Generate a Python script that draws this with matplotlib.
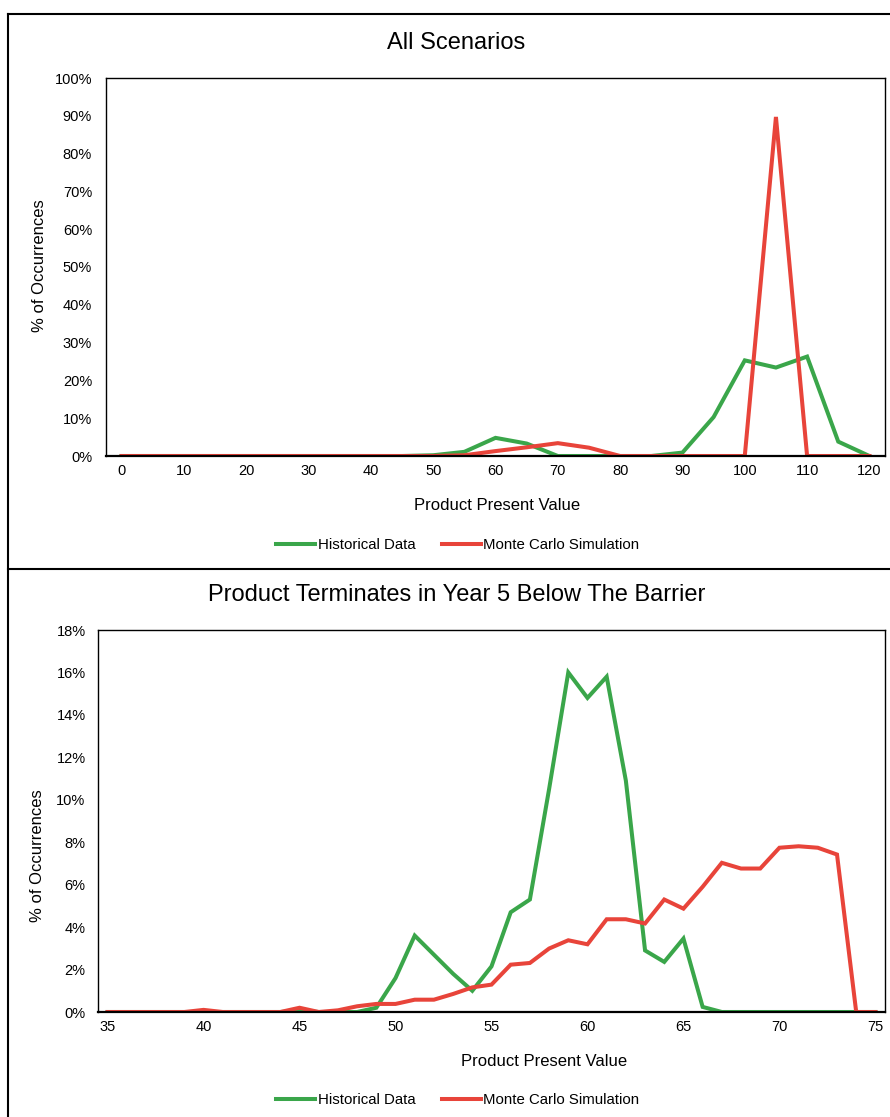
import matplotlib
matplotlib.use('agg')
import matplotlib.pyplot as plt
from matplotlib.lines import Line2D
from matplotlib.ticker import FuncFormatter

plt.rcParams['font.family'] = ['Liberation Sans', 'DejaVu Sans']

# --- data: all scenarios (values in %) ---
pv_all = [0, 5, 10, 15, 20, 25, 30, 35, 40, 45, 50, 55, 60, 65, 70, 75, 80, 85, 90, 95, 100, 105, 110, 115, 120]
hist_all = [0, 0, 0, 0, 0, 0, 0, 0, 0, 0, 0.2, 1.1, 4.8, 3.3, 0, 0, 0, 0, 0.9, 10.3, 25.3, 23.4, 26.3, 3.8, 0]
mc_all = [0, 0, 0, 0, 0, 0, 0, 0, 0, 0, 0, 0.2, 1.3, 2.3, 3.4, 2.2, 0, 0, 0, 0, 0, 89.7, 0, 0, 0]

# --- data: terminates in year 5 below barrier (values in %) ---
pv_y5 = list(range(35, 76))
hist_y5 = [0, 0, 0, 0, 0, 0, 0, 0, 0, 0, 0.05, 0, 0, 0, 0.2, 1.6, 3.6, 2.7, 1.8, 1.0,
           2.15, 4.7, 5.3, 10.5, 16.0, 14.8, 15.8, 10.9, 2.9, 2.36, 3.46, 0.24,
           0, 0, 0, 0, 0, 0, 0, 0, 0]
mc_y5 = [0, 0, 0, 0, 0, 0.1, 0, 0, 0, 0, 0.2, 0, 0.08, 0.27, 0.38, 0.38, 0.58, 0.58, 0.85, 1.16,
         1.29, 2.23, 2.31, 2.99, 3.38, 3.19, 4.37, 4.37, 4.17, 5.3, 4.87, 5.9,
         7.03, 6.76, 6.76, 7.74, 7.81, 7.74, 7.42, 0, 0]

green = '#3AA64A'
red = '#E8443A'
W, H = 890, 1117

fig = plt.figure(figsize=(W / 100, H / 100), dpi=100)


def fx(px):
    return px / W


def fy(py):
    return 1 - py / H


def style_axes(ax, ypad):
    ax.tick_params(length=0, labelsize=10.5, colors='#000000')
    ax.tick_params(axis='y', pad=ypad)
    ax.tick_params(axis='x', pad=6)
    for s in ax.spines.values():
        s.set_linewidth(1.0)
    ax.spines['bottom'].set_linewidth(1.6)
    ax.yaxis.set_major_formatter(FuncFormatter(lambda v, p: '%d%%' % round(v)))


# top chart
ax1 = fig.add_axes([fx(106), fy(456), fx(885) - fx(106), fy(78) - fy(456)])
ax1.plot(pv_all, hist_all, color=green, lw=2.9, solid_joinstyle='miter')
ax1.plot(pv_all, mc_all, color=red, lw=2.9, solid_joinstyle='miter')
ax1.set_xlim(-2.5, 122.5)
ax1.set_ylim(0, 100)
ax1.set_xticks(range(0, 121, 10))
ax1.set_yticks(range(0, 101, 10))
style_axes(ax1, 10)

# bottom chart
ax2 = fig.add_axes([fx(98), fy(1012), fx(885) - fx(98), fy(630) - fy(1012)])
ax2.plot(pv_y5, hist_y5, color=green, lw=2.9, solid_joinstyle='miter')
ax2.plot(pv_y5, mc_y5, color=red, lw=2.9, solid_joinstyle='miter')
ax2.set_xlim(34.5, 75.5)
ax2.set_ylim(0, 18)
ax2.set_xticks(range(35, 76, 5))
ax2.set_yticks(range(0, 19, 2))
style_axes(ax2, 9)

# titles and axis labels
fig.text(fx(456), fy(43), 'All Scenarios', fontsize=17, ha='center', va='center')
fig.text(fx(457), fy(595), 'Product Terminates in Year 5 Below The Barrier', fontsize=17, ha='center', va='center')
fig.text(fx(497), fy(505), 'Product Present Value', fontsize=12, ha='center', va='center')
fig.text(fx(544), fy(1061), 'Product Present Value', fontsize=12, ha='center', va='center')
fig.text(fx(40), fy(266), '% of Occurrences', fontsize=12, rotation=90, ha='center', va='center')
fig.text(fx(38), fy(856), '% of Occurrences', fontsize=12, rotation=90, ha='center', va='center')

# legends
handles = [Line2D([], [], color=green, lw=2.9), Line2D([], [], color=red, lw=2.9)]
names = ['Historical Data', 'Monte Carlo Simulation']
for cy in (545, 1100):
    fig.legend(handles, names, loc='center', bbox_to_anchor=(fx(458), fy(cy)), ncol=2,
               frameon=False, fontsize=10.8, handlelength=2.6, handletextpad=0.15,
               columnspacing=1.8, borderpad=0)

# outer border + divider
for xs, ys in [([fx(8), fx(8)], [0, fy(14)]),
               ([fx(8), 1], [fy(14), fy(14)]),
               ([fx(8), 1], [fy(569), fy(569)])]:
    fig.add_artist(Line2D(xs, ys, color='#000000', lw=1.5))

plt.savefig('out.png', dpi=100)
